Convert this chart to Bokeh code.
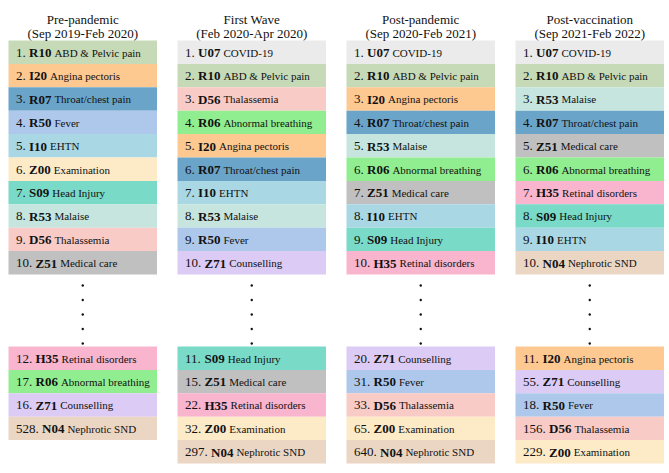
from bokeh.plotting import figure
from bokeh.models import Range1d, ColumnDataSource
from bokeh.core.properties import value
from bokeh.embed import file_html
from bokeh.resources import INLINE

# ---------------- data ----------------
period_names = ["Pre-pandemic", "First Wave", "Post-pandemic", "Post-vaccination"]
period_dates = ["(Sep 2019-Feb 2020)", "(Feb 2020-Apr 2020)",
                "(Sep 2020-Feb 2021)", "(Sep 2021-Feb 2022)"]

top_ranks = [1, 2, 3, 4, 5, 6, 7, 8, 9, 10]
top_codes_pre = ["R10", "I20", "R07", "R50", "I10", "Z00", "S09", "R53", "D56", "Z51"]
top_codes_wave = ["U07", "R10", "D56", "R06", "I20", "R07", "I10", "R53", "R50", "Z71"]
top_codes_post = ["U07", "R10", "I20", "R07", "R53", "R06", "Z51", "I10", "S09", "H35"]
top_codes_vacc = ["U07", "R10", "R53", "R07", "Z51", "R06", "H35", "S09", "I10", "N04"]

low_ranks_pre = [12, 17, 16, 528]
low_codes_pre = ["H35", "R06", "Z71", "N04"]
low_ranks_wave = [11, 15, 22, 32, 297]
low_codes_wave = ["S09", "Z51", "H35", "Z00", "N04"]
low_ranks_post = [20, 31, 33, 65, 640]
low_codes_post = ["Z71", "R50", "D56", "Z00", "N04"]
low_ranks_vacc = [11, 55, 18, 156, 229]
low_codes_vacc = ["I20", "Z71", "R50", "D56", "Z00"]

code_desc = {
    "R10": "ABD & Pelvic pain", "I20": "Angina pectoris", "R07": "Throat/chest pain",
    "R50": "Fever", "I10": "EHTN", "Z00": "Examination", "S09": "Head Injury",
    "R53": "Malaise", "D56": "Thalassemia", "Z51": "Medical care",
    "H35": "Retinal disorders", "R06": "Abnormal breathing", "Z71": "Counselling",
    "N04": "Nephrotic SND", "U07": "COVID-19",
}
code_color = {
    "R10": "#c6dab8", "I20": "#fdc991", "R07": "#6ba4c9", "R50": "#aec8eb",
    "I10": "#a9d8e4", "Z00": "#fdeac7", "S09": "#79dac7", "R53": "#c5e5de",
    "D56": "#f8cbc6", "Z51": "#c0c0c0", "H35": "#f9b5ce", "R06": "#90ee90",
    "Z71": "#dccbf4", "N04": "#ebd6c4", "U07": "#ebebeb",
}

top_cols = [top_codes_pre, top_codes_wave, top_codes_post, top_codes_vacc]
low_rank_cols = [low_ranks_pre, low_ranks_wave, low_ranks_post, low_ranks_vacc]
low_code_cols = [low_codes_pre, low_codes_wave, low_codes_post, low_codes_vacc]

# ---------------- layout (page pixel coordinates) ----------------
W, H = 669, 473
x_start = 8.0
col_step, col_w = 169.0, 148.5
row_h = 23.4
top_y0 = 40.0
low_y0 = 346.0
n_dots = 5
pad = 7.5
text_dy = 12.0
num_size, code_size, desc_size = 13, 13, 11

# Times / Liberation Serif advance widths (per 1000 em)
REG = {".": 250, " ": 250}
REG.update({d: 500 for d in "0123456789"})
BOLD = {"A": 722, "B": 667, "C": 722, "D": 722, "E": 667, "F": 611, "G": 778,
        "H": 778, "I": 389, "J": 500, "K": 778, "L": 667, "M": 944, "N": 722,
        "O": 778, "P": 611, "Q": 778, "R": 722, "S": 556, "T": 667, "U": 722,
        "V": 722, "W": 1000, "X": 722, "Y": 722, "Z": 667}
BOLD.update({d: 500 for d in "0123456789"})


def adv(s, table, size):
    return sum(table[c] for c in s) * size / 1000.0


rect = dict(left=[], right=[], top=[], bottom=[], color=[])
nums = dict(x=[], y=[], text=[])
codes = dict(x=[], y=[], text=[])
descs = dict(x=[], y=[], text=[])
hdr1 = dict(x=[], y=[], text=[])
hdr2 = dict(x=[], y=[], text=[])
dots = dict(x=[], y=[])


def add_row(ci, top, rank, code):
    left = x_start + ci * col_step
    rect["left"].append(left)
    rect["right"].append(left + col_w)
    rect["top"].append(top)
    rect["bottom"].append(top + row_h)
    rect["color"].append(code_color[code])
    base = top + text_dy
    ntxt = f"{rank}. "
    x0 = left + pad
    nums["x"].append(x0); nums["y"].append(base); nums["text"].append(ntxt.strip())
    x1 = x0 + adv(ntxt, REG, num_size)
    codes["x"].append(x1); codes["y"].append(base); codes["text"].append(code)
    x2 = x1 + adv(code, BOLD, code_size) + 3.0
    descs["x"].append(x2); descs["y"].append(base); descs["text"].append(code_desc[code])


for ci in range(4):
    left = x_start + ci * col_step
    cx = left + col_w / 2
    hdr1["x"].append(cx); hdr1["y"].append(18.5); hdr1["text"].append(period_names[ci])
    hdr2["x"].append(cx); hdr2["y"].append(32.5); hdr2["text"].append(period_dates[ci])
    for ri, code in enumerate(top_cols[ci]):
        add_row(ci, top_y0 + ri * row_h, top_ranks[ri], code)
    gap_top = top_y0 + 10 * row_h
    for k in range(n_dots):
        dots["x"].append(cx)
        dots["y"].append(gap_top + 11 + k * 14.5)
    for ri, (rank, code) in enumerate(zip(low_rank_cols[ci], low_code_cols[ci])):
        add_row(ci, low_y0 + ri * row_h, rank, code)

p = figure(width=W, height=H, x_range=Range1d(0, W), y_range=Range1d(H, 0),
           output_backend="svg", toolbar_location=None, min_border=0)
p.axis.visible = False
p.grid.visible = False
p.outline_line_color = None
p.background_fill_color = "white"
p.border_fill_color = "white"

p.quad(left="left", right="right", top="top", bottom="bottom", color="color",
       line_color=None, source=ColumnDataSource(rect))

font = value("Liberation Serif")
p.text(x="x", y="y", text="text", source=ColumnDataSource(nums), text_font=font,
       text_font_size=f"{num_size}px", text_baseline="alphabetic", text_align="left",
       text_color="#111111")
p.text(x="x", y="y", text="text", source=ColumnDataSource(codes), text_font=font,
       text_font_size=f"{code_size}px", text_font_style="bold",
       text_baseline="alphabetic", text_align="left", text_color="#111111")
p.text(x="x", y="y", text="text", source=ColumnDataSource(descs), text_font=font,
       text_font_size=f"{desc_size}px", text_baseline="alphabetic", text_align="left",
       text_color="#111111")
for src in (hdr1, hdr2):
    p.text(x="x", y="y", text="text", source=ColumnDataSource(src), text_font=font,
           text_font_size="13px", text_baseline="alphabetic", text_align="center",
           text_color="#111111")
p.scatter(x="x", y="y", source=ColumnDataSource(dots), marker="circle", size=2.4,
          color="#111111", line_color=None)

open("out.html", "w").write(file_html(p, INLINE))
